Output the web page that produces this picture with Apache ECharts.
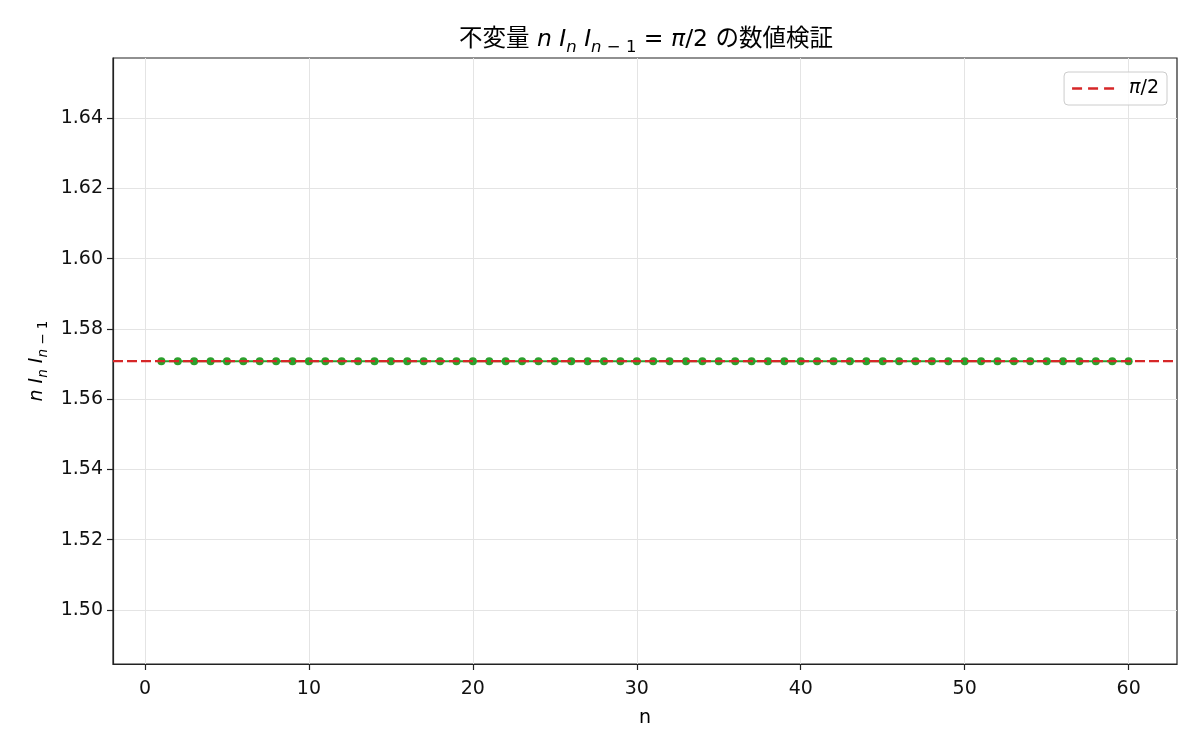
<!DOCTYPE html>
<html><head><meta charset="utf-8">
<script src="https://cdn.jsdelivr.net/npm/echarts@6/dist/echarts.min.js"></script>
<style>html,body{margin:0;padding:0;background:#fff}#c{width:1200px;height:750px}</style>
</head><body><div id="c"></div>
<script>
const nValues = [1,2,3,4,5,6,7,8,9,10,11,12,13,14,15,16,17,18,19,20,21,22,23,24,25,26,27,28,29,30,31,32,33,34,35,36,37,38,39,40,41,42,43,44,45,46,47,48,49,50,51,52,53,54,55,56,57,58,59,60];
const invariantValues = [1.5708,1.5708,1.5708,1.5708,1.5708,1.5708,1.5708,1.5708,1.5708,1.5708,1.5708,1.5708,1.5708,1.5708,1.5708,1.5708,1.5708,1.5708,1.5708,1.5708,1.5708,1.5708,1.5708,1.5708,1.5708,1.5708,1.5708,1.5708,1.5708,1.5708,1.5708,1.5708,1.5708,1.5708,1.5708,1.5708,1.5708,1.5708,1.5708,1.5708,1.5708,1.5708,1.5708,1.5708,1.5708,1.5708,1.5708,1.5708,1.5708,1.5708,1.5708,1.5708,1.5708,1.5708,1.5708,1.5708,1.5708,1.5708,1.5708,1.5708];
const halfPi = 1.5708;
const xTicks = [0,10,20,30,40,50,60];
const yTicks = [1.50,1.52,1.54,1.56,1.58,1.60,1.62,1.64];
const xRange = [-1.95, 62.95];
const yRange = [1.4846, 1.6571];

const FONT = '"DejaVu Sans", "Noto Sans CJK JP", sans-serif';
const TFONT = '"DejaVu Sans", "Noto Sans CJK JP", sans-serif';
const chart = echarts.init(document.getElementById('c'));
chart.setOption({
  backgroundColor: '#fff',
  animation: false,
  textStyle: {fontFamily: FONT},
  title: {
    text: '{a|不変量 }{i|n I}{s|n}{i| I}{s|n}{su| − 1}{a| = }{i|π}{a|/2 の数値検証}',
    left: 641, top: 18, textAlign: 'center',
    textStyle: {
      fontWeight: 'normal',
      rich: {
        a: {fontSize: 23.5, color: '#000', fontFamily: TFONT, fontWeight: 'normal', lineHeight: 33},
        i: {fontSize: 23.5, color: '#000', fontFamily: TFONT, fontWeight: 'normal', fontStyle: 'italic', lineHeight: 33},
        s: {fontSize: 16.5, color: '#000', fontFamily: TFONT, fontWeight: 'normal', fontStyle: 'italic', verticalAlign: 'bottom', lineHeight: 17},
        su: {fontSize: 16.5, color: '#000', fontFamily: TFONT, fontWeight: 'normal', verticalAlign: 'bottom', lineHeight: 17}
      }
    }
  },
  legend: {
    data: [{name: 'π/2', icon: 'path://M0,0h10v2.5h-10z M16,0h10v2.5h-10z M32,0h10v2.5h-10z'}],
    right: 33, top: 72,
    orient: 'vertical',
    itemWidth: 42, itemHeight: 2.5,
    padding: [6, 8, 6, 8],
    borderColor: '#cccccc', borderWidth: 1, borderRadius: 4,
    backgroundColor: 'rgba(255,255,255,0.8)',
    textStyle: {fontSize: 20, color: '#000', fontFamily: FONT, padding: [0, 0, 0, 10], lineHeight: 21},
    formatter: () => '{i|π}{a|/2}'
  },
  grid: {left: 113, right: 23, top: 58, bottom: 86, show: true, borderColor: '#222', borderWidth: 1.2, backgroundColor: 'transparent'},
  xAxis: {
    type: 'value', min: xRange[0], max: xRange[1],
    name: 'n', nameLocation: 'middle', nameGap: 45,
    nameTextStyle: {fontSize: 19, color: '#000', fontFamily: FONT},
    axisLine: {show: true, onZero: false, lineStyle: {color: '#222', width: 1.2}},
    axisTick: {show: true, length: 6, inside: false, customValues: xTicks, lineStyle: {color: '#222', width: 1.2}},
    axisLabel: {customValues: xTicks, fontSize: 19, color: '#111', margin: 16, fontFamily: FONT, formatter: v => String(Math.round(v))},
    splitLine: {show: true, lineStyle: {color: '#e4e4e4', width: 1}}
  },
  yAxis: {
    type: 'value', min: yRange[0], max: yRange[1],
    name: '{i|n I}{s|n}{i| I}{s|n}{su| − 1}', nameLocation: 'middle', nameGap: 63, nameRotate: 90,
    nameTextStyle: {
      rich: {
        i: {fontSize: 19, color: '#000', fontFamily: FONT, fontStyle: 'italic', lineHeight: 26},
        s: {fontSize: 13.5, color: '#000', fontFamily: FONT, fontStyle: 'italic', verticalAlign: 'bottom', lineHeight: 13},
        su: {fontSize: 13.5, color: '#000', fontFamily: FONT, verticalAlign: 'bottom', lineHeight: 13}
      }
    },
    axisLine: {show: true, onZero: false, lineStyle: {color: '#222', width: 1.2}},
    axisTick: {show: true, length: 6, inside: false, customValues: yTicks, lineStyle: {color: '#222', width: 1.2}},
    axisLabel: {customValues: yTicks, fontSize: 19, color: '#111', margin: 10, fontFamily: FONT, formatter: v => v.toFixed(2)},
    splitLine: {show: true, lineStyle: {color: '#e4e4e4', width: 1}}
  },
  series: [
    {
      name: 'invariant', type: 'line',
      data: nValues.map((n, i) => [n, invariantValues[i]]),
      symbol: 'circle', symbolSize: 8,
      itemStyle: {color: '#2ca02c'},
      lineStyle: {color: '#2ca02c', width: 2},
      z: 2
    },
    {
      name: 'π/2', type: 'line',
      data: [[xRange[0], halfPi], [xRange[1], halfPi]],
      symbol: 'none', showSymbol: false,
      itemStyle: {color: '#d62728'},
      lineStyle: {color: '#d62728', width: 2.2, type: [10, 4]},
      z: 3
    }
  ]
});
chart.setOption({legend: {textStyle: {rich: {
  i: {fontSize: 19, color: '#000', fontFamily: FONT, fontStyle: 'italic'},
  a: {fontSize: 19, color: '#000', fontFamily: FONT}
}}}});
</script></body></html>
